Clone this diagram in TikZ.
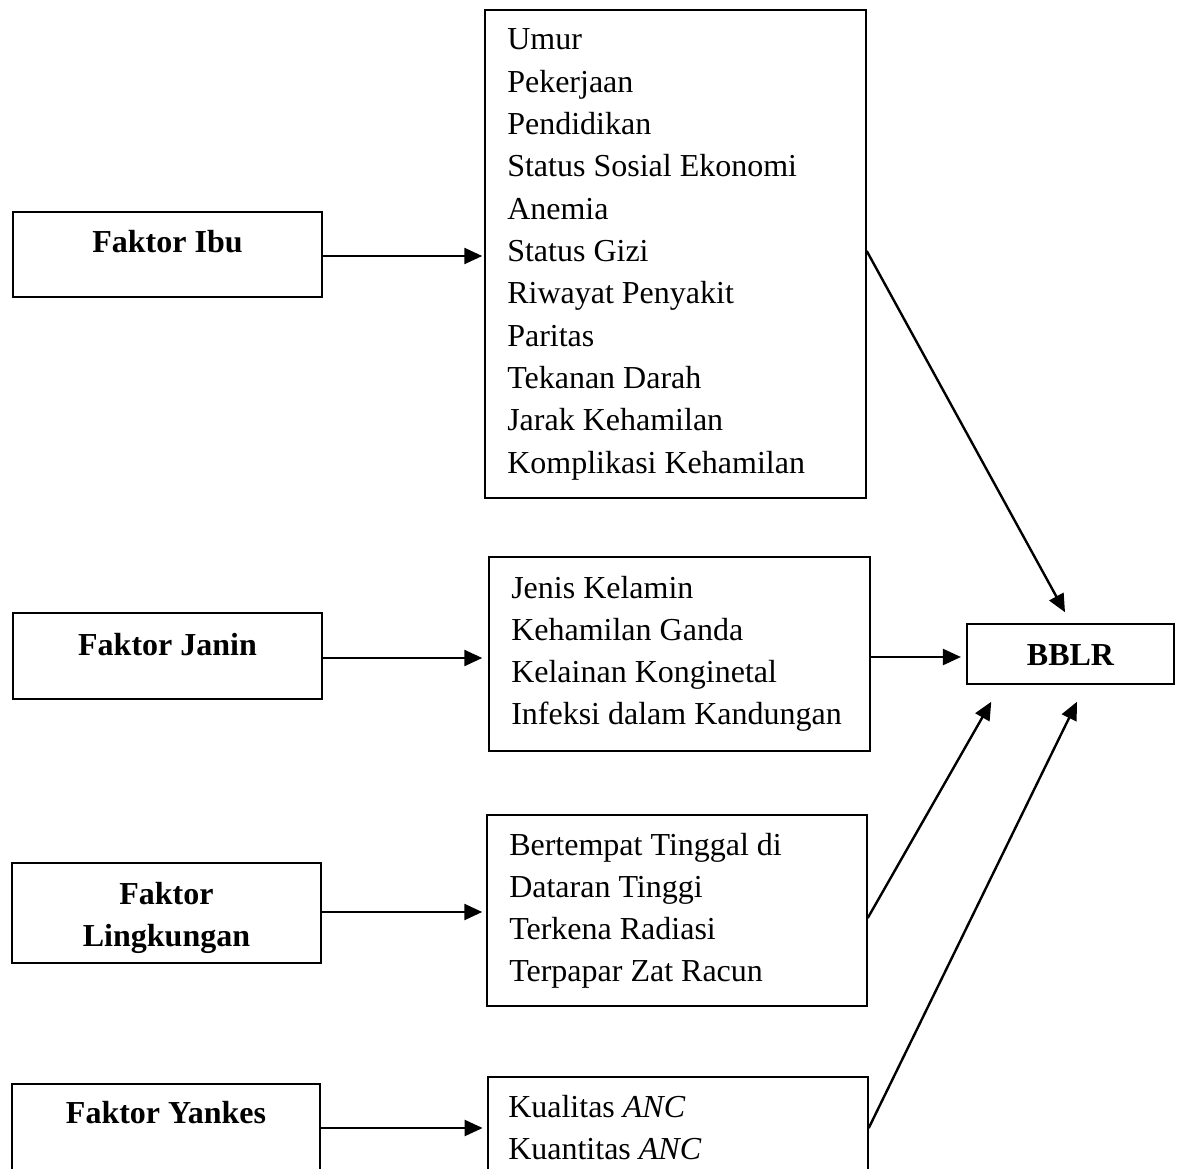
\documentclass[tikz,border=0pt]{standalone}
\usepackage{fontspec}
\setmainfont{Liberation Serif}
\usetikzlibrary{arrows.meta,fit,calc}
\begin{document}
\begin{tikzpicture}[x=0.75pt,y=-0.75pt,
  box/.style={draw,line width=1.1pt,inner sep=0pt,rectangle},
  lbl/.style={font=\fontsize{24}{30}\selectfont\bfseries,inner sep=0pt,anchor=base},
  item/.style={font=\fontsize{24}{30}\selectfont,inner sep=0pt,anchor=base west},
  arr/.style={line width=1.8pt,-{Triangle[length=13.5pt,width=12pt]}}]
\useasboundingbox (0,0) rectangle (1181,1169);
\clip (0,0) rectangle (1181,1169);
\fill[white] (0,0) rectangle (1181,1169);

% left factor boxes
\node[box,fit={(13,212) (322,297)}] (fi) {};
\node[lbl] (fiT) at (167.5,253) {Faktor Ibu};
\node[box,fit={(13,613) (322,699)}] (fj) {};
\node[lbl] (fjT) at (167.5,655) {Faktor Janin};
\node[box,fit={(12,863) (321,963)}] (fl) {};
\node[lbl] (flT1) at (166.5,904) {Faktor};
\node[lbl] (flT2) at (166.5,946) {Lingkungan};
\node[box,fit={(12,1084) (320,1172)}] (fy) {};
\node[lbl] (fyT) at (166,1123) {Faktor Yankes};

% list boxes
\node[box,fit={(485,10) (866,498)}] (b1) {};
\foreach \t [count=\i] in {Umur,Pekerjaan,Pendidikan,Status Sosial Ekonomi,Anemia,Status Gizi,Riwayat Penyakit,Paritas,Tekanan Darah,Jarak Kehamilan,Komplikasi Kehamilan}
  \node[item] (b1l\i) at (507,{50+42.3*(\i-1)}) {\t};

\node[box,fit={(489,557) (870,751)}] (b2) {};
\foreach \t [count=\i] in {Jenis Kelamin,Kehamilan Ganda,Kelainan Konginetal,Infeksi dalam Kandungan}
  \node[item] (b2l\i) at (511,{598+42.3*(\i-1)}) {\t};

\node[box,fit={(487,815) (867,1006)}] (b3) {};
\foreach \t [count=\i] in {Bertempat Tinggal di,Dataran Tinggi,Terkena Radiasi,Terpapar Zat Racun}
  \node[item] (b3l\i) at (509,{855+42.3*(\i-1)}) {\t};

\node[box,fit={(488,1077) (868,1230)}] (b4) {};
\node[item] (b4l1) at (508,1117) {Kualitas \textit{ANC}};
\node[item] (b4l2) at (508,1159) {Kuantitas \textit{ANC}};

% outcome
\node[box,fit={(967,624) (1174,684)}] (bblr) {};
\node[lbl] (bblrT) at (1070.5,665) {BBLR};

% horizontal connectors
\draw[arr,shorten >=1.5pt] (fi.east |- 0,256) -- (b1.west |- 0,256);
\draw[arr,shorten >=4.5pt] (fj.east |- 0,658) -- (b2.west |- 0,658);
\draw[arr,shorten >=3pt] (fl.east |- 0,912) -- (b3.west |- 0,912);
\draw[arr,shorten >=3.5pt] (fy.east) -- (b4.west |- fy.east);
\draw[arr,shorten >=4pt] (b2.east |- 0,657) -- (bblr.west |- 0,657);

% diagonal connectors
\draw[arr] (b1.north east |- 0,251) -- ($(bblr.north)+(-5.5,-11)$);
\draw[arr] (b3.north east |- 0,918) -- ($(bblr.south west)+(25,17)$);
\draw[arr] (b4.north east |- 0,1128) -- ($(bblr.south)+(6.5,17)$);
\end{tikzpicture}
\end{document}
